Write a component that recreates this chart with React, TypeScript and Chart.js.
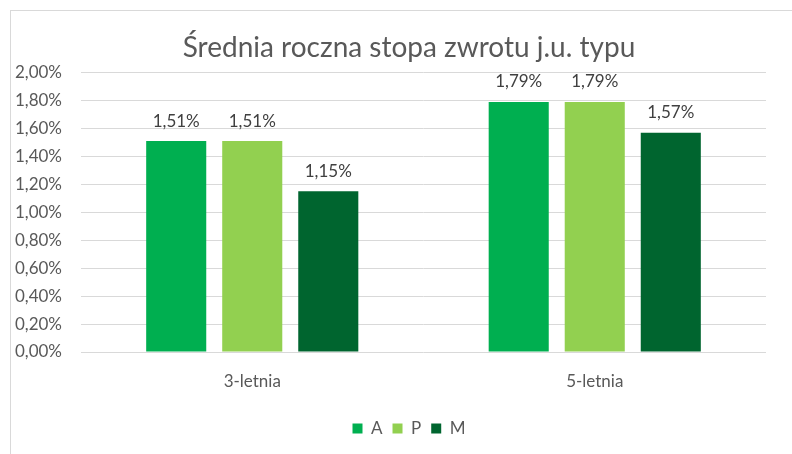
import React, { useEffect, useRef } from "react";
import { Chart, registerables } from "chart.js";

Chart.register(...registerables);

const categories = ["3-letnia", "5-letnia"];
const seriesNames = ["A", "P", "M"];
const seriesA = [1.51, 1.79];
const seriesP = [1.51, 1.79];
const seriesM = [1.15, 1.57];
const seriesColors = ["#00AF50", "#92D050", "#00652F"];
const titleText = "Średnia roczna stopa zwrotu j.u. typu";

const FONT = "Lato, 'Open Sans', sans-serif";
const fmt = (v: number) => v.toFixed(2).replace(".", ",") + "%";

const framePlugin = {
  id: "frame",
  beforeDraw(chart: any) {
    const ctx = chart.ctx;
    ctx.save();
    ctx.fillStyle = "#ffffff";
    ctx.fillRect(0, 0, chart.width, chart.height);
    ctx.strokeStyle = "#d9d9d9";
    ctx.lineWidth = 1;
    ctx.strokeRect(10.5, 10.5, 900, 600);
    ctx.restore();
  },
};

const labelPlugin = {
  id: "barLabels",
  afterDatasetsDraw(chart: any) {
    const ctx = chart.ctx;
    ctx.save();
    ctx.font = `17px ${FONT}`;
    ctx.fillStyle = "#404040";
    ctx.textAlign = "center";
    ctx.textBaseline = "middle";
    chart.data.datasets.forEach((ds: any, i: number) => {
      const meta = chart.getDatasetMeta(i);
      meta.data.forEach((bar: any, j: number) => {
        ctx.fillText(fmt(ds.data[j]), bar.x, bar.y - 20);
      });
    });
    ctx.restore();
  },
};

export default function App() {
  const ref = useRef<HTMLCanvasElement>(null);
  useEffect(() => {
    document.body.style.margin = "0";
    const values = [seriesA, seriesP, seriesM];
    const chart = new Chart(ref.current!, {
      type: "bar",
      data: {
        labels: categories,
        datasets: seriesNames.map((n, i) => ({
          label: n,
          data: values[i],
          backgroundColor: seriesColors[i],
          categoryPercentage: 0.666,
          barPercentage: 0.79,
        })),
      },
      options: {
        animation: false,
        responsive: false,
        layout: { padding: { left: 52, right: 26, top: 0, bottom: 7 } },
        plugins: {
          title: {
            display: true,
            text: titleText,
            color: "#595959",
            font: { family: FONT, size: 28, weight: "normal" },
            padding: { top: 31, bottom: 8 },
          },
          legend: {
            position: "bottom",
            labels: {
              boxWidth: 10,
              boxHeight: 10,
              color: "#595959",
              font: { family: FONT, size: 17 },
              padding: 10,
            },
          },
          tooltip: { enabled: false },
        },
        scales: {
          x: {
            grid: { display: false, drawTicks: false },
            border: { display: false },
            ticks: { color: "#595959", font: { family: FONT, size: 17 }, padding: 19 },
            afterFit: (s: any) => { s.height = 58; },
          },
          y: {
            min: 0,
            max: 2,
            ticks: {
              stepSize: 0.2,
              color: "#595959",
              font: { family: FONT, size: 17 },
              padding: 19,
              callback: (v: any) => fmt(Number(v)),
            },
            grid: { color: "#d9d9d9", drawTicks: false },
            border: { display: false },
            afterFit: (s: any) => {
              s.width = 29;
              s._computeLabelArea = () => undefined;
            },
          },
        },
      },
      plugins: [framePlugin, labelPlugin],
    });
    return () => chart.destroy();
  }, []);
  return <canvas ref={ref} width={792} height={454} style={{ display: "block" }} />;
}
